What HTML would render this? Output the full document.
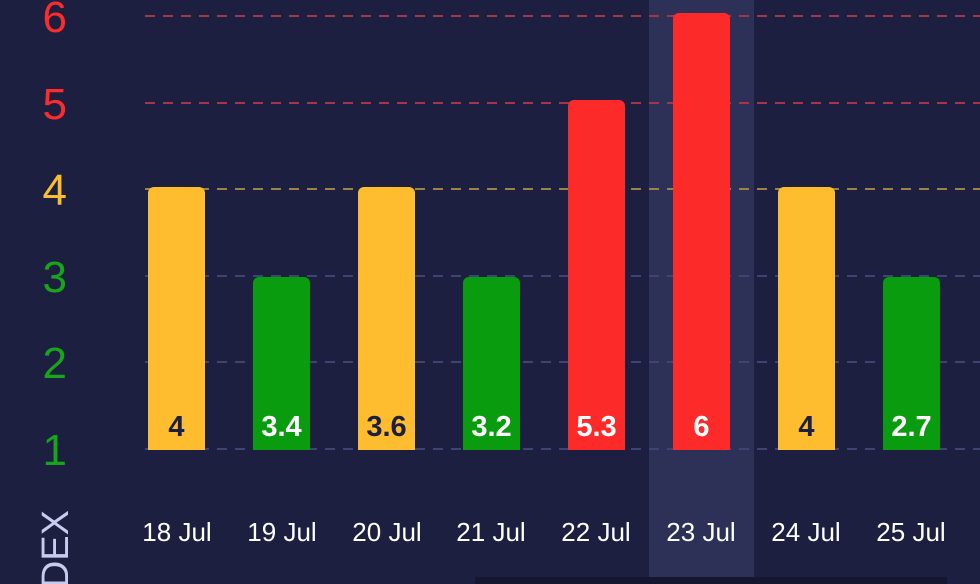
<!DOCTYPE html>
<html><head><style>
html,body{margin:0;padding:0;background:#1c1f40;width:980px;height:584px;overflow:hidden;}
svg{display:block;font-family:"Liberation Sans",sans-serif;}
</style></head><body>
<svg width="980" height="584" viewBox="0 0 980 584" overflow="hidden">
<rect width="980" height="584" fill="#1c1f40"/>
<rect x="649" y="0" width="105" height="584" fill="#2e3157"/>
<rect x="475" y="577" width="472" height="7" fill="#15172e"/>
<g stroke-width="2" stroke-dasharray="10 8">
<line x1="145" y1="16" x2="980" y2="16" stroke="#a8344a"/>
<line x1="145" y1="103" x2="980" y2="103" stroke="#a8344a"/>
<line x1="145" y1="189" x2="980" y2="189" stroke="#9c8248"/>
<line x1="145" y1="276" x2="980" y2="276" stroke="#3e4473"/>
<line x1="145" y1="362" x2="980" y2="362" stroke="#3e4473"/>
<line x1="145" y1="449" x2="980" y2="449" stroke="#3e4473"/>
</g>
<g font-size="44" text-anchor="end">
<text x="67" y="32" fill="#fb2c2c">6</text>
<text x="67" y="119" fill="#fb2c2c">5</text>
<text x="67" y="205" fill="#fbbd2e">4</text>
<text x="67" y="292" fill="#17a51a">3</text>
<text x="67" y="378" fill="#17a51a">2</text>
<text x="67" y="465" fill="#17a51a">1</text>
</g>
<text transform="translate(68,510) rotate(-90)" font-size="38" fill="#c8cbf0" text-anchor="end">DEX</text>
<g>
<path d="M148 450V193a6 6 0 0 1 6-6h45a6 6 0 0 1 6 6V450z" fill="#fdbd2e"/>
<path d="M253 450V283a6 6 0 0 1 6-6h45a6 6 0 0 1 6 6V450z" fill="#089c0e"/>
<path d="M358 450V193a6 6 0 0 1 6-6h45a6 6 0 0 1 6 6V450z" fill="#fdbd2e"/>
<path d="M463 450V283a6 6 0 0 1 6-6h45a6 6 0 0 1 6 6V450z" fill="#089c0e"/>
<path d="M568 450V106a6 6 0 0 1 6-6h45a6 6 0 0 1 6 6V450z" fill="#fd2a2a"/>
<path d="M673 450V19a6 6 0 0 1 6-6h45a6 6 0 0 1 6 6V450z" fill="#fd2a2a"/>
<path d="M778 450V193a6 6 0 0 1 6-6h45a6 6 0 0 1 6 6V450z" fill="#fdbd2e"/>
<path d="M883 450V283a6 6 0 0 1 6-6h45a6 6 0 0 1 6 6V450z" fill="#089c0e"/>
</g>
<g font-size="29" font-weight="bold" text-anchor="middle">
<text x="176.5" y="436" fill="#1c1f40">4</text>
<text x="281.5" y="436" fill="#fff">3.4</text>
<text x="386.5" y="436" fill="#1c1f40">3.6</text>
<text x="491.5" y="436" fill="#fff">3.2</text>
<text x="596.5" y="436" fill="#fff">5.3</text>
<text x="701.5" y="436" fill="#fff">6</text>
<text x="806.5" y="436" fill="#1c1f40">4</text>
<text x="911.5" y="436" fill="#fff">2.7</text>
</g>
<g font-size="26" fill="#fff" text-anchor="middle">
<text x="177" y="541">18 Jul</text>
<text x="282" y="541">19 Jul</text>
<text x="387" y="541">20 Jul</text>
<text x="491" y="541">21 Jul</text>
<text x="596" y="541">22 Jul</text>
<text x="701" y="541">23 Jul</text>
<text x="806" y="541">24 Jul</text>
<text x="911" y="541">25 Jul</text>
</g>
</svg>
</body></html>
